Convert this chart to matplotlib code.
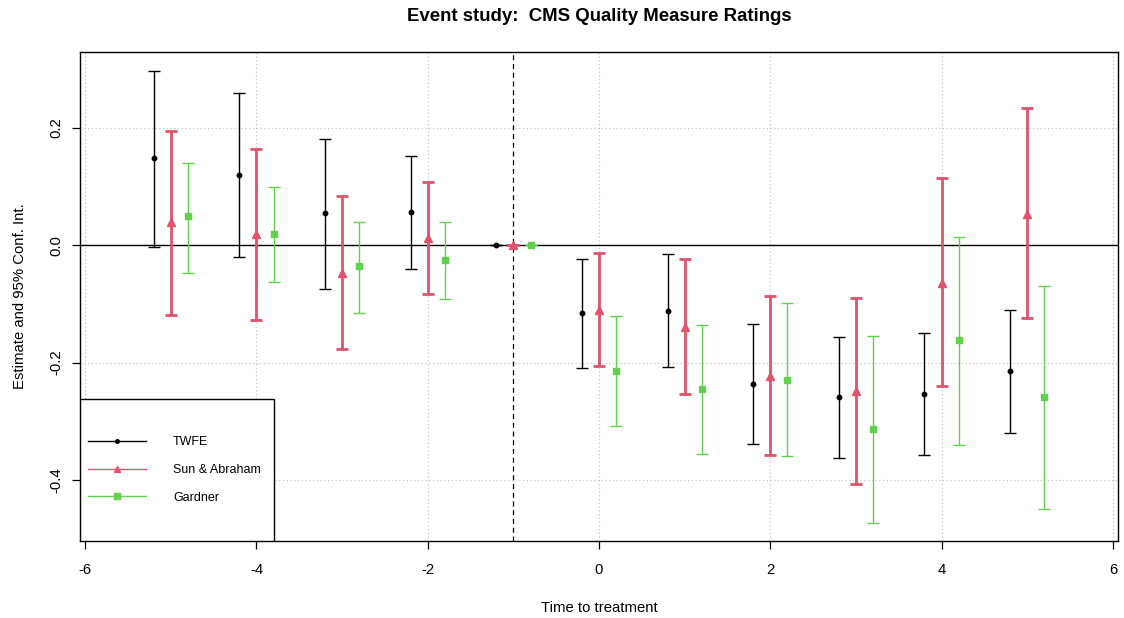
import numpy as np
import matplotlib
matplotlib.use("Agg")
import matplotlib.pyplot as plt
from matplotlib.lines import Line2D
from matplotlib.patches import Rectangle

plt.rcParams['font.family'] = ['Liberation Sans', 'DejaVu Sans']
plt.rcParams['axes.unicode_minus'] = False

# event time
periods = np.array([-5, -4, -3, -2, -1, 0, 1, 2, 3, 4, 5])

# TWFE estimates and 95% CI
twfe_est = [0.148, 0.120, 0.054, 0.057, 0.0, -0.116, -0.112, -0.236, -0.259, -0.254, -0.215]
twfe_lo  = [-0.003, -0.020, -0.074, -0.040, 0.0, -0.210, -0.207, -0.338, -0.362, -0.357, -0.320]
twfe_hi  = [0.296, 0.259, 0.181, 0.152, 0.0, -0.023, -0.015, -0.134, -0.156, -0.149, -0.110]

# Sun & Abraham
sa_est = [0.039, 0.019, -0.048, 0.012, 0.0, -0.110, -0.139, -0.223, -0.249, -0.064, 0.053]
sa_lo  = [-0.119, -0.127, -0.177, -0.083, 0.0, -0.206, -0.254, -0.358, -0.407, -0.240, -0.124]
sa_hi  = [0.195, 0.164, 0.084, 0.107, 0.0, -0.014, -0.024, -0.087, -0.090, 0.114, 0.233]

# Gardner
gd_est = [0.049, 0.019, -0.036, -0.026, 0.0, -0.214, -0.245, -0.229, -0.313, -0.162, -0.259]
gd_lo  = [-0.047, -0.063, -0.115, -0.092, 0.0, -0.308, -0.356, -0.360, -0.473, -0.340, -0.450]
gd_hi  = [0.140, 0.099, 0.040, 0.039, 0.0, -0.121, -0.136, -0.099, -0.154, 0.014, -0.069]

series = [
    ("TWFE", -0.2, twfe_est, twfe_lo, twfe_hi, "black", "o", 3.2, 1.0),
    ("Sun & Abraham", 0.0, sa_est, sa_lo, sa_hi, "#DF536B", "^", 6, 2.0),
    ("Gardner", 0.2, gd_est, gd_lo, gd_hi, "#61D04F", "s", 5, 1.0),
]

fig = plt.figure(figsize=(11.24, 6.18), dpi=100)
ax = fig.add_axes([0.0712, 0.1246, 0.9235, 0.7913])

ax.grid(True, color="#c8c8c8", linestyle=(0, (1, 2)), linewidth=0.9)
ax.set_axisbelow(True)
ax.axhline(0, color="black", linewidth=1)
ax.axvline(-1, color="black", linestyle=(0, (4, 3)), linewidth=0.9)

handles = []
for name, shift, est, lo, hi, col, mk, ms, lw in series:
    est = np.array(est); lo = np.array(lo); hi = np.array(hi)
    x = periods + shift
    ax.errorbar(x, est, yerr=[est - lo, hi - est], fmt=mk, color=col,
                ecolor=col, elinewidth=lw, capsize=4, capthick=lw,
                markersize=ms, zorder=3)
    handles.append(Line2D([], [], color=col, marker=mk, markersize=ms * 0.8,
                          linewidth=1))

ax.set_xlim(-6.06, 6.06)
ax.set_ylim(-0.504, 0.329)
ax.set_xticks([-6, -4, -2, 0, 2, 4, 6])
ax.set_yticks([-0.4, -0.2, 0.0, 0.2])
ax.set_yticklabels(["-0.4", "-0.2", "0.0", "0.2"], rotation=90, va="center")
ax.tick_params(direction="out", length=6, width=0.9, labelsize=10.7)
ax.tick_params(axis="x", pad=10)
ax.tick_params(axis="y", pad=6)
for s in ax.spines.values():
    s.set_linewidth(1)

ax.set_xlabel("Time to treatment", fontsize=10.7, labelpad=17)
ax.set_ylabel("Estimate and 95% Conf. Int.", fontsize=10.7, labelpad=16)
ax.set_title("Event study:  CMS Quality Measure Ratings", fontsize=13.4,
             fontweight="bold", pad=22)

# legend box in the bottom left corner
ax.add_patch(Rectangle((0, 0), 0.187, 0.290, transform=ax.transAxes,
                       facecolor="white", edgecolor="black", linewidth=1,
                       zorder=4))
ax.legend(handles, [s[0] for s in series], loc="center left",
          bbox_to_anchor=(0.0077, 0.145), frameon=False, borderpad=0,
          borderaxespad=0, handlelength=4.6, handletextpad=2.2,
          labelspacing=1.25, fontsize=9, numpoints=1).set_zorder(5)

fig.savefig("out.png", dpi=100)
